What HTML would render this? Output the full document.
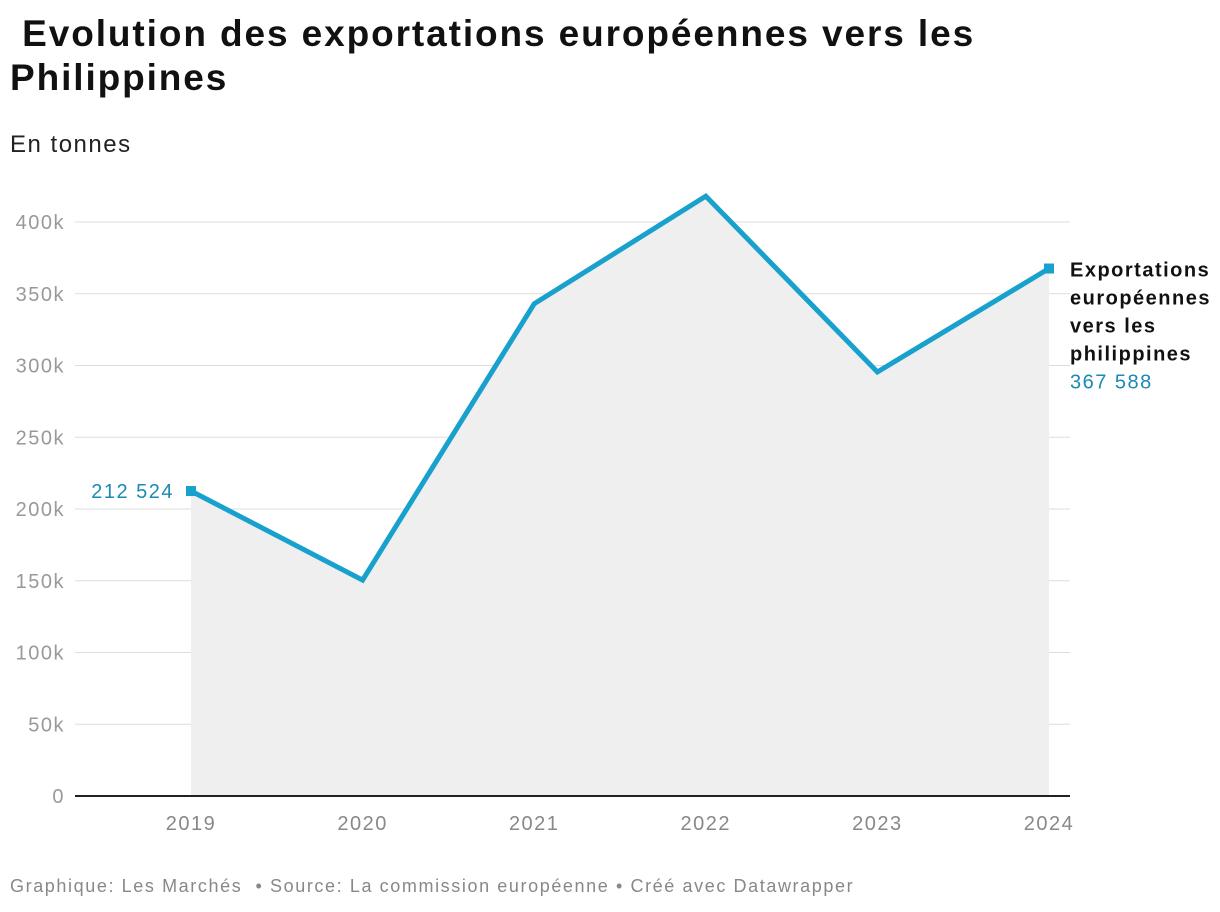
<!DOCTYPE html>
<html><head><meta charset="utf-8">
<style>
body{margin:0;background:#fff;font-family:"Liberation Sans",sans-serif;}
#wrap{position:relative;width:1220px;height:912px;overflow:hidden;}
h1{position:absolute;left:10px;top:12px;margin:0;font-size:37px;line-height:44px;font-weight:bold;color:#111;letter-spacing:1.9px;}
.sub{position:absolute;left:10px;top:131px;font-size:24px;color:#222;letter-spacing:1.5px;}
.foot{position:absolute;left:10px;top:876px;font-size:18px;color:#888;letter-spacing:1.6px;}
svg{position:absolute;left:0;top:0;}
svg text{letter-spacing:1.5px;}
</style></head><body>
<div id="wrap">
<h1>&nbsp;Evolution des exportations européennes vers les<br>Philippines</h1>
<div class="sub">En tonnes</div>
<svg id="svg" width="1220" height="912"></svg>
<div class="foot">Graphique: Les Marchés &nbsp;• Source: La commission européenne • Créé avec Datawrapper</div>
</div>
<script>
const years=["2019","2020","2021","2022","2023","2024"];
const values=[212524,150500,343000,418000,295500,367588];
const yTicks=[0,50000,100000,150000,200000,250000,300000,350000,400000];
const yTickLabels=["0","50k","100k","150k","200k","250k","300k","350k","400k"];
const seriesName=["Exportations","européennes","vers les","philippines"];
const NS="http://www.w3.org/2000/svg";
const svg=document.getElementById('svg');
const y=v=>796-v*(574/400000);
const x=i=>191+i*(1049-191)/(years.length-1);
function mk(t,a){const e=document.createElementNS(NS,t);for(const k in a)e.setAttribute(k,a[k]);svg.appendChild(e);return e;}
yTicks.forEach((t,i)=>{
 if(t>0){const l=mk('line',{x1:75,x2:1070,y1:y(t),y2:y(t),stroke:'#ddd','stroke-width':1});
 
 }
 const tx=mk('text',{x:65,y:y(t)+7,'text-anchor':'end','font-size':20,fill:'#999'});tx.textContent=yTickLabels[i];
 
 
});
let d='M'+x(0)+','+y(0);values.forEach((v,i)=>d+=' L'+x(i)+','+y(v));d+=' L'+x(values.length-1)+','+y(0)+'Z';
const area=mk('path',{d:d,fill:'#efefef'});


const base=mk('line',{x1:75,x2:1070,y1:796,y2:796,stroke:'#222','stroke-width':2});


years.forEach((yr,i)=>{const t=mk('text',{x:x(i),y:830,'text-anchor':'middle','font-size':20,fill:'#888'});t.textContent=yr;
 
 });
const line=mk('polyline',{points:values.map((v,i)=>x(i)+','+y(v)).join(' '),fill:'none',stroke:'#18a1cd','stroke-width':5,'stroke-linejoin':'miter'});


[0,values.length-1].forEach(i=>{const r=mk('rect',{x:x(i)-5,y:y(values[i])-5,width:10,height:10,fill:'#18a1cd'});
 
 });
const fmt=v=>Math.round(v).toString().replace(/\B(?=(\d{3})+(?!\d))/g,' ');
const l0=mk('text',{x:x(0)-17,y:y(values[0])+7,'text-anchor':'end','font-size':20,fill:'#1a8ab5'});l0.textContent=fmt(values[0]);


const n=values.length-1;
seriesName.forEach((s,i)=>{const t=mk('text',{x:1070,y:y(values[n])+8+i*28,'font-size':20,'font-weight':'bold',fill:'#111'});t.textContent=s;
 
 });
const l1=mk('text',{x:1070,y:y(values[n])+8+4*28,'font-size':20,fill:'#1a8ab5'});l1.textContent=fmt(values[n]);


</script>
</body></html>
